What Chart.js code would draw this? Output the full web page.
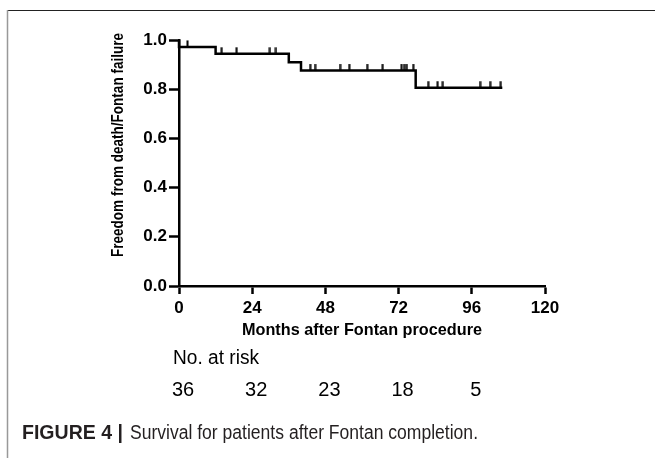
<!DOCTYPE html>
<html>
<head>
<meta charset="utf-8">
<script src="https://cdn.jsdelivr.net/npm/chart.js@4"></script>
<style>
  html, body { margin: 0; padding: 0; background: #fff; }
  #km { display: block; }
</style>
</head>
<body>
<canvas id="km" width="655" height="458"></canvas>
<script>
// Kaplan-Meier steps (months, survival)
const stepTimes = [0, 0, 12, 36, 40, 77.6, 106];
const stepSurvival = [1.0, 0.972, 0.944, 0.910, 0.876, 0.806, 0.806];
// censored patients (months)
const censorTimes = [2.8, 14.0, 18.9, 29.8, 31.8, 43.0, 44.6, 52.8, 55.8, 61.7, 66.8,
  73.0, 73.8, 74.7, 76.8, 81.7, 84.8, 86.5, 98.7, 102.0, 105.5];
// number at risk table
const riskTimes = [0, 24, 48, 72, 96];
const riskCounts = [36, 32, 23, 18, 5];
const xTicks = [0, 24, 48, 72, 96, 120];
const yTicks = [0, 0.2, 0.4, 0.6, 0.8, 1.0];

const FONT = 'Arial, "Liberation Sans", Helvetica, sans-serif';

function survivalAt(t) {
  let s = stepSurvival[0];
  for (let i = 0; i < stepTimes.length; i++) {
    if (stepTimes[i] <= t) s = stepSurvival[i];
  }
  return s;
}

// censor mark: short vertical tick above the curve
const tick = document.createElement('canvas');
tick.width = 3;
tick.height = 15;
const tctx = tick.getContext('2d');
tctx.fillStyle = '#000';
tctx.fillRect(0.5, 1, 2, 7);

const extras = {
  id: 'extras',
  afterDraw(chart) {
    const ctx = chart.ctx;
    const x = chart.scales.x;
    ctx.save();
    // figure frame
    ctx.strokeStyle = '#222';
    ctx.lineWidth = 1;
    ctx.beginPath();
    ctx.moveTo(7, 10.5);
    ctx.lineTo(655, 10.5);
    ctx.stroke();
    ctx.strokeStyle = '#999';
    ctx.lineWidth = 1.5;
    ctx.beginPath();
    ctx.moveTo(7.5, 10);
    ctx.lineTo(7.5, 458);
    ctx.stroke();

    ctx.fillStyle = '#000';
    // y title
    ctx.save();
    ctx.translate(118, 145);
    ctx.rotate(-Math.PI / 2);
    ctx.font = 'bold 17px ' + FONT;
    ctx.textAlign = 'center';
    ctx.textBaseline = 'middle';
    ctx.fillText('Freedom from death/Fontan failure', 0, 0, 224);
    ctx.restore();

    // x title
    ctx.font = 'bold 17px ' + FONT;
    ctx.textAlign = 'center';
    ctx.textBaseline = 'middle';
    ctx.fillText('Months after Fontan procedure', (x.left + x.right) / 2, 330, 240);

    // number at risk
    ctx.font = '20px ' + FONT;
    ctx.textAlign = 'left';
    ctx.fillText('No. at risk', 173, 358, 86);
    ctx.textAlign = 'center';
    riskTimes.forEach((t, i) => {
      ctx.fillText(String(riskCounts[i]), x.getPixelForValue(t) + 4, 390);
    });

    // caption
    ctx.fillStyle = '#231f20';
    ctx.textAlign = 'left';
    ctx.font = 'bold 20px ' + FONT;
    ctx.fillText('FIGURE 4 |', 22, 433, 101);
    ctx.font = '20px ' + FONT;
    ctx.fillText('Survival for patients after Fontan completion.', 130, 433, 348);
    ctx.restore();
  }
};

new Chart(document.getElementById('km'), {
  data: {
    datasets: [{
      type: 'line',
      data: stepTimes.map((t, i) => ({ x: t, y: stepSurvival[i] })),
      stepped: true,
      borderColor: '#000',
      borderWidth: 2.5,
      pointRadius: 0,
      fill: false,
      clip: 6
    }, {
      type: 'scatter',
      data: censorTimes.map(t => ({ x: t, y: survivalAt(t) })),
      pointStyle: tick,
      clip: 10
    }]
  },
  options: {
    responsive: false,
    animation: false,
    devicePixelRatio: 1,
    layout: { padding: { left: 100, top: 40, right: 110, bottom: 132 } },
    plugins: { legend: { display: false }, tooltip: { enabled: false } },
    scales: {
      x: {
        type: 'linear',
        min: 0,
        max: 120,
        afterBuildTicks: s => { s.ticks = xTicks.map(v => ({ value: v })); },
        afterFit: s => { s.height = 40; },
        ticks: { color: '#000', font: { family: FONT, size: 17, weight: 'bold' }, padding: 4, maxRotation: 0 },
        grid: { drawOnChartArea: false, tickLength: 8, tickWidth: 2.5, tickColor: '#000' },
        border: { color: '#000', width: 2.5 }
      },
      y: {
        type: 'linear',
        min: 0,
        max: 1,
        afterBuildTicks: s => { s.ticks = yTicks.map(v => ({ value: v })); },
        afterFit: s => { s.width = 79; },
        ticks: { color: '#000', font: { family: FONT, size: 17, weight: 'bold' }, padding: 2,
          callback: v => v.toFixed(1) },
        grid: { drawOnChartArea: false, tickLength: 10, tickWidth: 2.5, tickColor: '#000' },
        border: { color: '#000', width: 2.5 }
      }
    }
  },
  plugins: [extras]
});
</script>
</body>
</html>
